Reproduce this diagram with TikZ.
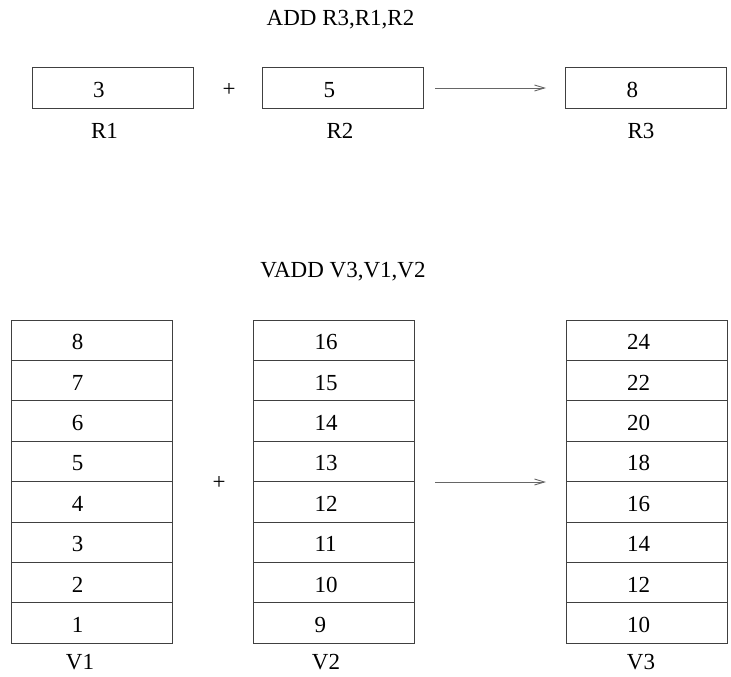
\documentclass[tikz,border=0pt]{standalone}
\usepackage{fontspec}
\setmainfont{Liberation Serif}
\usetikzlibrary{arrows.meta}
\begin{document}
\begin{tikzpicture}[x=1pt,y=-1pt,
  lbl/.style={inner sep=0pt,font=\fontsize{23}{27}\selectfont},
  box/.style={draw=black!75,line width=1pt,minimum width=161pt,inner sep=0pt,text width=161pt,align=left,font=\fontsize{23}{27}\selectfont,text height=20pt,text depth=1pt},
  reg/.style={box,minimum height=40pt},
  cell/.style={box,minimum height=40.4pt},
  flow/.style={draw=black!60,line width=0.9pt,-{Straight Barb[length=10pt,width=6pt]}}]
\useasboundingbox (0,0) rectangle (731,677);
\newcommand\val[1]{\hspace*{61pt}#1}
% scalar
\node[lbl] (t1) at (340.5,20) {ADD R3,R1,R2};
\node[reg] (R1) at (112.5,88) {\val{3}};
\node[reg] (R2) at (343,88) {\val{5}};
\node[reg] (R3) at (646,88) {\val{8}};
\node[lbl] (l1) at (104.5,131) {R1};
\node[lbl] (l2) at (340,131) {R2};
\node[lbl] (l3) at (641,131) {R3};
\node[lbl] (p1) at (229,90) {+};
\coordinate (a1s) at (435,88);
\coordinate (a1e) at (546,88);
\draw[flow] (a1s) -- (a1e);
% vector
\node[lbl] (t2) at (343,272) {VADD V3,V1,V2};
\foreach \i/\a/\b/\c in {0/8/16/24,1/7/15/22,2/6/14/20,3/5/13/18,4/4/12/16,5/3/11/14,6/2/10/12,7/1/9/10}{
  \node[cell] (va\i) at (91.5,{340.2+40.4*\i}) {\val{\a}};
  \node[cell] (vb\i) at (334,{340.2+40.4*\i}) {\val{\b}};
  \node[cell] (vc\i) at (646.5,{340.2+40.4*\i}) {\val{\c}};
}
\node[lbl] (m1) at (80,662) {V1};
\node[lbl] (m2) at (326,662) {V2};
\node[lbl] (m3) at (641,662) {V3};
\node[lbl] (p2) at (219,483) {+};
\coordinate (a2s) at (435,482);
\coordinate (a2e) at (546,482);
\draw[flow] (a2s) -- (a2e);
\end{tikzpicture}
\end{document}
